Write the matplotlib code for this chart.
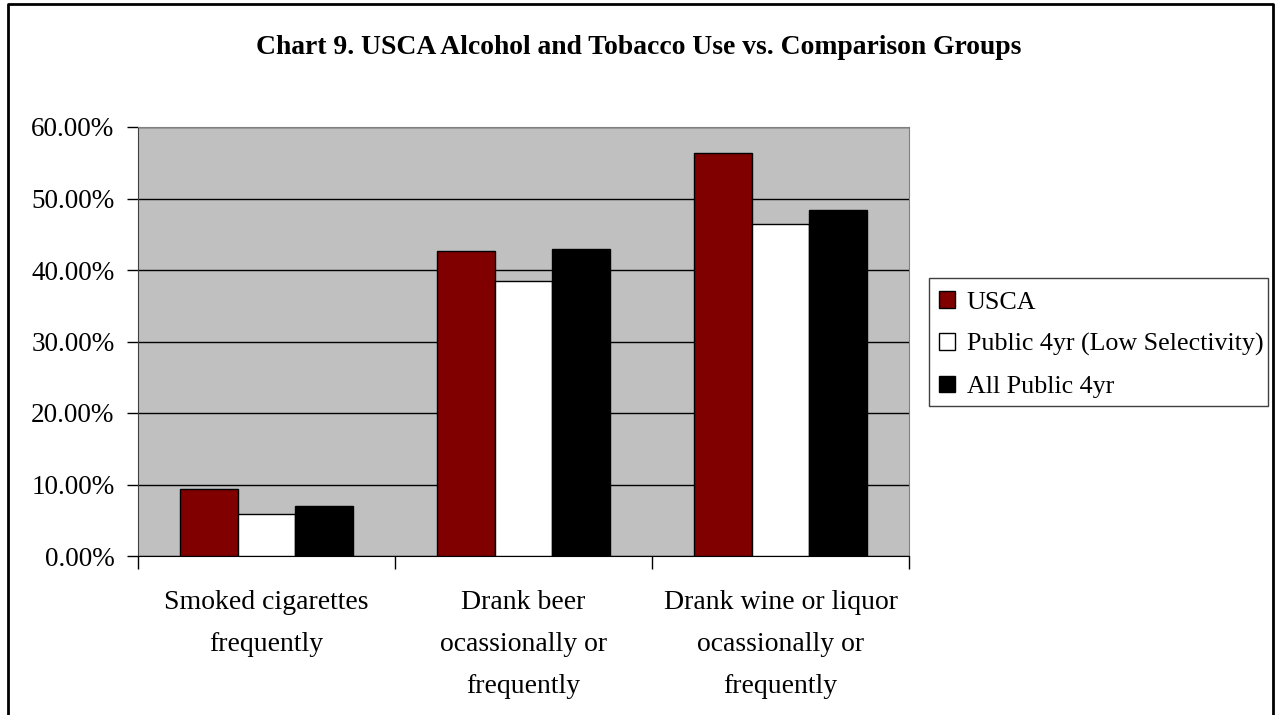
import numpy as np
import matplotlib.pyplot as plt
from matplotlib.lines import Line2D
from matplotlib.patches import Rectangle

# Datos del gráfico
categories = ['Smoked cigarettes\nfrequently',
              'Drank beer\nocassionally or\nfrequently',
              'Drank wine or liquor\nocassionally or\nfrequently']
series_names = ['USCA', 'Public 4yr (Low Selectivity)', 'All Public 4yr']
usca = [0.094, 0.4265, 0.563]
public_low = [0.059, 0.3845, 0.464]
all_public = [0.070, 0.429, 0.484]
colors = ['#800000', '#FFFFFF', '#000000']

plt.rcParams['font.family'] = ['Liberation Serif', 'DejaVu Serif']

W, H = 1277, 715
fig = plt.figure(figsize=(W / 100, H / 100), dpi=100)

# Marco de la figura (sin borde inferior visible)
fx0, fx1, fy1 = 8 / W, 1273 / W, 1 - 4 / H
fig.add_artist(Line2D([fx0, fx0, fx1, fx1], [0, fy1, fy1, 0],
                      transform=fig.transFigure, color='black', lw=2))

ax = fig.add_axes([138 / W, 1 - 556 / H, (909 - 138) / W, (556 - 127) / H])
ax.set_facecolor('#C0C0C0')

x = np.arange(len(categories))
w = 0.225
for i, (vals, name) in enumerate(zip([usca, public_low, all_public], series_names)):
    ax.bar(x + (i - 1) * w, vals, width=w, color=colors[i], edgecolor='black',
           linewidth=1, label=name, zorder=3)

ax.set_xlim(-0.5, 2.5)
ax.set_ylim(0, 0.6)
ax.set_yticks(np.arange(0, 0.61, 0.1))
ax.set_yticklabels(['%.2f%%' % (v * 100) for v in np.arange(0, 0.61, 0.1)], fontsize=19.5)
ax.yaxis.grid(True, color='black', linewidth=1, zorder=1)
ax.set_axisbelow(True)

ax.set_xticks([-0.5, 0.5, 1.5, 2.5])
ax.set_xticklabels([])
ax.tick_params(axis='x', length=9, width=1, direction='out')
ax.tick_params(axis='y', length=8, width=1, direction='out', pad=9)
for i, c in enumerate(categories):
    ax.text(i, -0.047, c, ha='center', va='top', fontsize=20, linespacing=1.9,
            transform=ax.transData)

for s in ['top', 'right']:
    ax.spines[s].set_color('#808080')
ax.spines['left'].set_color('#404040')
ax.spines['bottom'].set_color('black')

fig.text(0.5, 1 - 47 / H, 'Chart 9. USCA Alcohol and Tobacco Use vs. Comparison Groups',
         ha='center', va='center', fontsize=19.9, fontweight='bold')

# Leyenda con marco dibujado aparte
fig.add_artist(Rectangle((929 / W, 1 - 406 / H), (1268 - 929) / W, (406 - 278) / H,
                         transform=fig.transFigure, facecolor='white',
                         edgecolor='#404040', linewidth=1, zorder=2))
leg = fig.legend(loc='upper left', bbox_to_anchor=(939 / W, 1 - 291 / H),
                 fontsize=18.7, frameon=False, handlelength=0.62,
                 handleheight=0.62, handletextpad=0.45, borderpad=0,
                 labelspacing=0.75, borderaxespad=0)
leg.set_zorder(3)

fig.savefig('out.png', dpi=100)
